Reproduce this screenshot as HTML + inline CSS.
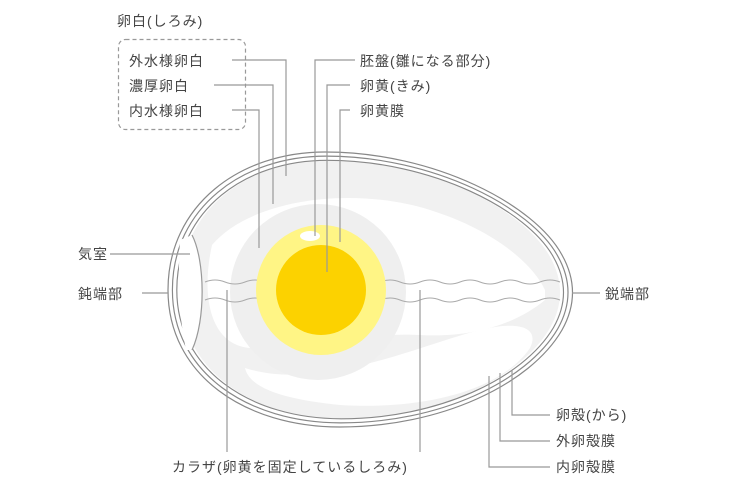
<!DOCTYPE html>
<html><head><meta charset="utf-8"><style>
html,body{margin:0;padding:0;background:#fff;width:740px;height:490px;overflow:hidden}
svg{display:block}
text{font-family:"Liberation Sans","Noto Sans CJK JP",sans-serif;font-size:14px;fill:#444;letter-spacing:1px}
</style></head><body>
<svg width="740" height="490" viewBox="0 0 740 490">
<defs>
<path id="egg" d="M168,290 C168,205 240,152 325,152 C435,152 535,205 562,255 C576,280 576,305 562,330 C530,385 440,427 340,427 C245,427 168,375 168,290Z"/>
</defs>
<g transform="translate(365,290) scale(0.94) translate(-365,-290)">
<use href="#egg" fill="#f1f1f1"/>
</g>
<path d="M212,245 C250,200 350,185 430,210 C500,232 535,268 545,290 L545,300 C515,325 470,338 420,335 C360,332 300,350 250,348 C212,345 200,300 212,245Z" fill="#fff"/>
<path d="M245,368 C320,392 420,345 480,330 C520,320 540,328 530,348 C500,392 420,410 340,405 C290,400 250,390 245,368Z" fill="#fff"/>
<circle cx="318" cy="292" r="88" fill="#efefef"/>
<use href="#egg" fill="none" stroke="#888" stroke-width="1.2"/>
<g transform="translate(368,290) scale(0.978,0.97) translate(-368,-290)"><use href="#egg" fill="none" stroke="#888" stroke-width="1.2"/></g>
<g transform="translate(368,290) scale(0.956,0.94) translate(-368,-290)"><use href="#egg" fill="none" stroke="#888" stroke-width="1.2"/></g>
<path d="M180,240 C178,280 178,310 186,350 L192,350 C206,320 205,260 192,235Z" fill="#fff"/>
<path d="M192,235 C205,260 206,320 192,350" fill="none" stroke="#999" stroke-width="1.2"/>
<path d="M205,282 q10,-4 20,0 t20,0 t20,0 t20,0 M380,282 q10,-4 20,0 t20,0 t20,0 t20,0 t20,0 t20,0 t20,0 t20,0 t20,0" fill="none" stroke="#aaa" stroke-width="1"/>
<path d="M205,300 q10,-4 20,0 t20,0 t20,0 t20,0 M380,300 q10,-4 20,0 t20,0 t20,0 t20,0 t20,0 t20,0 t20,0 t20,0 t20,0" fill="none" stroke="#aaa" stroke-width="1"/>
<circle cx="321" cy="290" r="65" fill="#fff585"/>
<circle cx="321" cy="290" r="45" fill="#fcd200"/>
<ellipse cx="310" cy="236" rx="10" ry="5" fill="#fff"/>
<g fill="none" stroke="#999" stroke-width="1.2">
<path d="M232,60 H286 V176"/>
<path d="M214,85 H273 V204"/>
<path d="M232,110 H259 V248"/>
<path d="M355,60 H315 V236"/>
<path d="M350,85 H327 V272"/>
<path d="M350,110 H340 V242"/>
<path d="M110,254 H190"/>
<path d="M142,293 H168"/>
<path d="M572,293 H600"/>
<path d="M227,290 V452"/>
<path d="M420,290 V452"/>
<path d="M512,370 V415 H550"/>
<path d="M500,373 V441 H550"/>
<path d="M489,376 V467 H550"/>
</g>
<rect x="118.5" y="39.5" width="127" height="90" rx="7" fill="none" stroke="#999" stroke-width="1.2" stroke-dasharray="4,3"/>
<text x="117" y="26">卵白(しろみ)</text>
<text x="129" y="66">外水様卵白</text>
<text x="129" y="91">濃厚卵白</text>
<text x="129" y="116">内水様卵白</text>
<text x="360" y="66">胚盤(雛になる部分)</text>
<text x="360" y="91">卵黄(きみ)</text>
<text x="360" y="116">卵黄膜</text>
<text x="78" y="259">気室</text>
<text x="78" y="299">鈍端部</text>
<text x="605" y="299">鋭端部</text>
<text x="172" y="472">カラザ(卵黄を固定しているしろみ)</text>
<text x="556" y="420">卵殻(から)</text>
<text x="556" y="446">外卵殻膜</text>
<text x="556" y="472">内卵殻膜</text>
</svg>
</body></html>
